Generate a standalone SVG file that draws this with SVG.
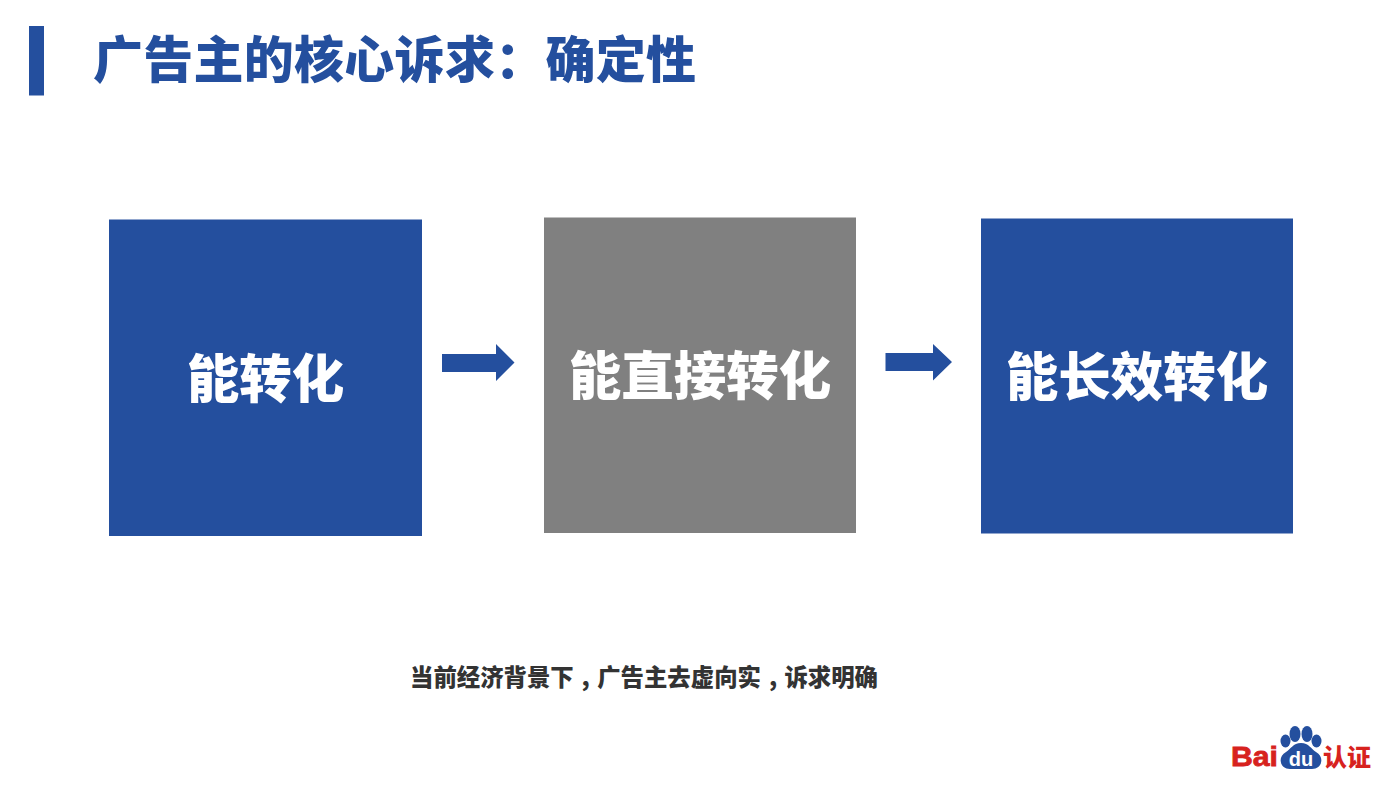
<svg xmlns="http://www.w3.org/2000/svg" width="1400" height="788" viewBox="0 0 1400 788">
<style>
.cjk{font-family:"Noto Sans CJK SC","Noto Sans",sans-serif;font-weight:900}
.box{fill:#244f9e}
.label{fill:#fff;font-size:52.500px;text-anchor:middle}
.arrow{fill:#244f9e}
</style>
<rect width="1400" height="788" fill="#fff"/>
<g id="title">
<rect x="29" y="26" width="15" height="69.500" fill="#244f9e"/>
<text class="cjk" x="93" y="78" font-size="50" letter-spacing="0.270" fill="#244f9e">广告主的核心诉求&#xFF1A;确定性</text>
</g>
<g id="node1">
<rect class="box" x="109" y="219.500" width="313" height="316.500"/>
<text class="cjk label" x="265.500" y="398">能转化</text>
</g>
<g id="node2">
<rect x="544" y="217.500" width="312" height="315.500" fill="#808080"/>
<text class="cjk label" x="700" y="395">能直接转化</text>
</g>
<g id="node3">
<rect class="box" x="981" y="218.500" width="312" height="315"/>
<text class="cjk label" x="1137" y="396">能长效转化</text>
</g>
<g id="connectors">
<polygon class="arrow" points="442,354 496,354 496,344 514.500,362.500 496,381 496,372 442,372"/>
<polygon class="arrow" points="885.500,353 933,353 933,344 952,362 933,380.500 933,371 885.500,371"/>
</g>
<text id="caption" class="cjk" x="410" y="686" font-size="23.400" fill="#333">当前经济背景下<tspan x="581.500">,</tspan><tspan x="597.200">广告主去虚向实</tspan><tspan x="769">,</tspan><tspan x="784.400">诉求明确</tspan></text>
<g id="logo">
<ellipse cx="1295" cy="734" rx="5.500" ry="8" fill="#244f9e"/>
<ellipse cx="1307" cy="734" rx="5.500" ry="8" fill="#244f9e"/>
<ellipse cx="1285.500" cy="741" rx="5" ry="6.500" fill="#244f9e"/>
<ellipse cx="1316.500" cy="741" rx="5" ry="6.500" fill="#244f9e"/>
<path d="M1301 743C1309 743 1311 749 1316 752C1325 757 1322 769 1312 769L1290 769C1280 769 1277 757 1286 752C1291 749 1293 743 1301 743Z" fill="#244f9e"/>
<text x="1301" y="766" font-family="Liberation Sans,sans-serif" font-weight="700" font-size="20" fill="#fff" text-anchor="middle">du</text>
<text x="1231" y="766" font-family="Liberation Sans,sans-serif" font-weight="700" font-size="28" stroke="#d7221e" stroke-width="0.800" fill="#d7221e" textLength="47" lengthAdjust="spacingAndGlyphs">Bai</text>
<text class="cjk" x="1323" y="766" font-size="24" fill="#d7221e">认证</text>
</g>
</svg>
